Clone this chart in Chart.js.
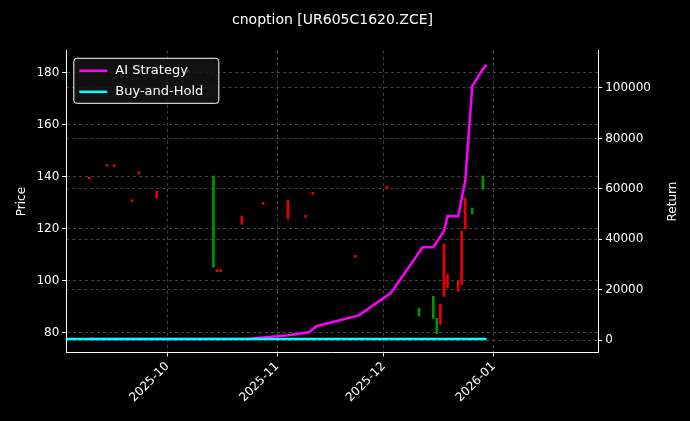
<!DOCTYPE html>
<html>
<head>
<meta charset="utf-8">
<script src="https://cdn.jsdelivr.net/npm/chart.js@4/dist/chart.umd.min.js"></script>
<style>
  html, body { margin: 0; padding: 0; background: #000; }
</style>
</head>
<body>
<canvas id="c" width="690" height="421"></canvas>
<script>
// days counted from 2025-09-01 (day 0)
const tickDays = [30, 61, 91, 122];
const tickLabels = ['2025-10', '2025-11', '2025-12', '2026-01'];

// candles: day, open, close
const candleDays   = [8, 13, 15, 20, 22, 27, 43, 44, 45, 51, 57, 64, 69, 71, 83, 92, 101, 105, 106, 107, 108, 109, 112, 113, 114, 116, 119];
const candleOpen   = [139.3, 144.3, 144.2, 130.8, 141.6, 134.4, 105.1, 103.7, 103.7, 124.8, 129.6, 131.0, 124.6, 133.5, 109.2, 135.8, 86.2, 85.4, 79.5, 90.8, 114.0, 102.4, 99.7, 119.0, 131.7, 125.6, 135.2];
const candleClose  = [139.0, 144.0, 143.9, 130.4, 141.2, 131.7, 140.2, 103.4, 103.4, 121.7, 129.3, 123.6, 124.3, 133.2, 108.9, 135.5, 89.3, 93.9, 85.4, 83.1, 93.9, 97.0, 95.8, 98.5, 119.8, 127.9, 140.2];

// strategy returns
const aiDays    = [8, 30, 53, 64, 70, 72, 84, 93, 102, 105, 108, 109, 112, 114, 116, 119, 120];
const aiReturn  = [500, 500, 600, 2000, 3200, 5600, 9900, 18700, 36900, 36900, 43300, 49200, 49200, 63100, 100800, 107500, 109100];
const bhDays    = [1.5, 120];
const bhReturn  = [500, 500];

const candleBars = candleDays.map((d, i) => ({ x: d, y: [candleOpen[i], candleClose[i]] }));
const candleColors = candleDays.map((d, i) => candleClose[i] >= candleOpen[i] ? 'rgb(0,150,0)' : 'rgb(230,0,0)');

const legendBox = {
  id: 'legendBox',
  afterDraw(chart) {
    const c = chart.ctx;
    const a = chart.chartArea;
    c.save();
    c.fillStyle = 'rgba(20,20,20,0.85)';
    c.strokeStyle = '#ffffff';
    c.lineWidth = 1;
    c.beginPath();
    c.roundRect(a.left + 7.5, a.top + 7.5, 145, 45, 3);
    c.fill(); c.stroke();
    const items = [['AI Strategy', '#ff00ff', a.top + 20], ['Buy-and-Hold', '#00ffff', a.top + 41]];
    c.font = '13px "DejaVu Sans"';
    c.textBaseline = 'middle';
    items.forEach(it => {
      c.strokeStyle = it[1]; c.lineWidth = 2.5;
      c.beginPath(); c.moveTo(a.left + 13, it[2]); c.lineTo(a.left + 41, it[2]); c.stroke();
      c.fillStyle = '#fff';
      c.fillText(it[0], a.left + 49, it[2]);
    });
    // right axis title, reading bottom to top
    c.translate(673, (a.top + a.bottom) / 2);
    c.rotate(-Math.PI / 2);
    c.font = '12px "DejaVu Sans"';
    c.textAlign = 'center';
    c.fillText('Return', 0, 0);
    c.restore();
  }
};

const gridColor = 'rgba(120,120,120,0.55)';

new Chart(document.getElementById('c'), {
  data: {
    datasets: [
      { type: 'line', label: 'AI Strategy', data: aiDays.map((d, i) => ({ x: d, y: aiReturn[i] })),
        yAxisID: 'y2', borderColor: '#ff00ff', borderWidth: 2.5, pointRadius: 0, tension: 0, order: 1 },
      { type: 'line', label: 'Buy-and-Hold', data: bhDays.map((d, i) => ({ x: d, y: bhReturn[i] })),
        yAxisID: 'y2', borderColor: '#00ffff', borderWidth: 2.5, pointRadius: 0, order: 0 },
      { type: 'bar', label: 'candles', data: candleBars, yAxisID: 'y',
        backgroundColor: candleColors, barThickness: 2, minBarLength: 2, order: 2 }
    ]
  },
  options: {
    responsive: false,
    animation: false,
    devicePixelRatio: 1,
    layout: { padding: { top: 8, right: 36, left: 11, bottom: 13 } },
    plugins: {
      legend: { display: false },
      tooltip: { enabled: false },
      title: { display: true, text: 'cnoption [UR605C1620.ZCE]', color: '#fff',
        font: { family: 'DejaVu Sans', size: 14, weight: 'normal' }, padding: { top: 4, bottom: 22 } }
    },
    scales: {
      x: {
        type: 'linear', min: 1.5, max: 151.5, offset: false,
        afterBuildTicks(ax) { ax.ticks = tickDays.map(v => ({ value: v })); },
        ticks: { color: '#fff', maxRotation: 45, minRotation: 45, font: { family: 'DejaVu Sans', size: 12 },
          callback: v => tickLabels[tickDays.indexOf(v)] },
        grid: { color: gridColor, tickColor: '#fff', tickLength: 4, offset: false },
        border: { color: '#fff', dash: [3, 3] }
      },
      y: {
        position: 'left', min: 72.3, max: 188.5,
        afterBuildTicks(ax) { ax.ticks = [80, 100, 120, 140, 160, 180].map(v => ({ value: v })); },
        ticks: { color: '#fff', font: { family: 'DejaVu Sans', size: 12 } },
        title: { display: true, text: 'Price', color: '#fff', font: { family: 'DejaVu Sans', size: 12 } },
        grid: { color: gridColor, tickColor: '#fff', tickLength: 4 },
        border: { color: '#fff', dash: [3, 3] }
      },
      y2: {
        position: 'right', min: -4760, max: 114700,
        afterBuildTicks(ax) { ax.ticks = [0, 20000, 40000, 60000, 80000, 100000].map(v => ({ value: v })); },
        ticks: { color: '#fff', font: { family: 'DejaVu Sans', size: 12 }, callback: v => String(v) },
        grid: { color: gridColor, tickColor: '#fff', tickLength: 4 },
        border: { color: '#fff', dash: [3, 3] }
      }
    }
  },
  plugins: [legendBox, {
    id: 'bg',
    beforeDraw(chart) { const c = chart.ctx; c.save(); c.fillStyle = '#000'; c.fillRect(0, 0, chart.width, chart.height); c.restore(); }
  }]
});
</script>
</body>
</html>
